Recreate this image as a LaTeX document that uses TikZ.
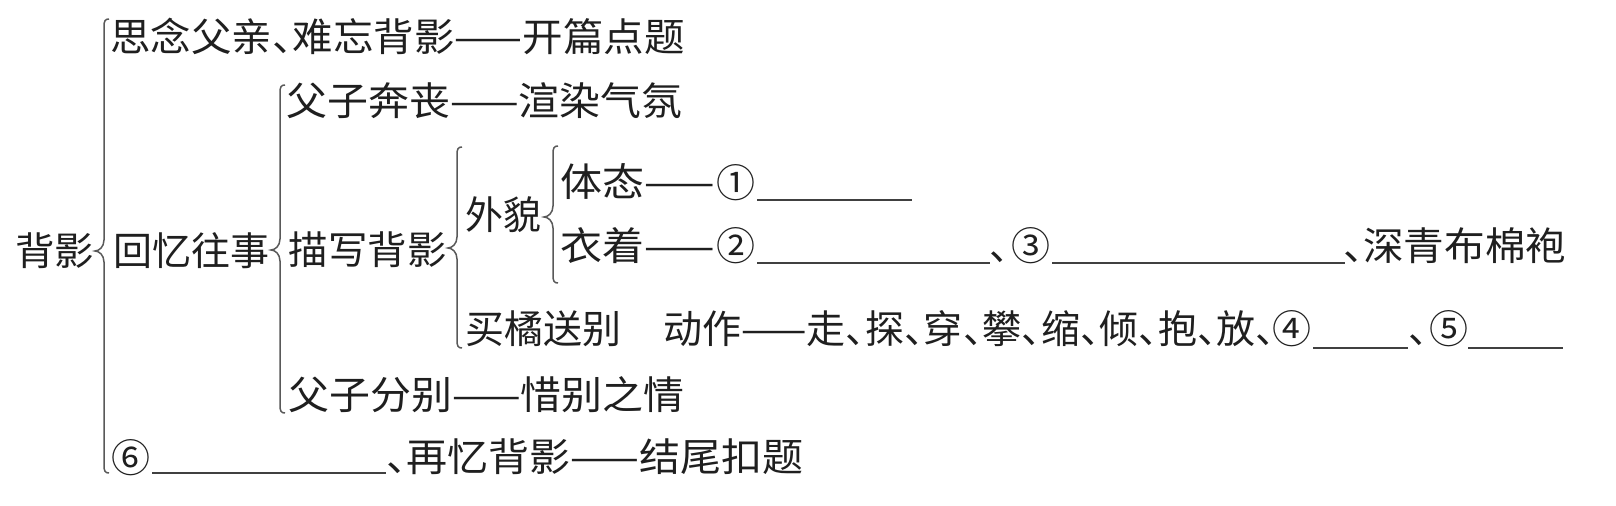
\documentclass[tikz,border=0pt]{standalone}
\usepackage{fontspec}
\usepackage{graphicx}
\newfontfamily\cjk{Noto Sans CJK SC}[RawFeature=+halt]
\newlength\pxu
\setlength\pxu{0.5pt}
\newcommand\sq[2]{\resizebox{#1\pxu}{\height}{#2}}
% L T M B : line x, top y, tip y, bottom y
\newcommand\mybrace[4]{%
  \draw[brc] (#1+5,#2) .. controls (#1+1,#2) and (#1,#2+2) .. (#1,#2+8)
    -- (#1,#3-11) .. controls (#1,#3-4) and (#1-5,#3) .. (#1-9,#3)
    .. controls (#1-5,#3) and (#1,#3+4) .. (#1,#3+11)
    -- (#1,#4-8) .. controls (#1,#4-2) and (#1+1,#4) .. (#1+5,#4);}
\begin{document}
\begin{tikzpicture}[x=0.5pt,y=-0.5pt,
  t/.style={anchor=west,inner sep=0pt,outer sep=0pt,text height=17.2pt,text depth=2.3pt,
    text=black!88,font=\cjk\fontsize{19.5pt}{24pt}\selectfont},
  brc/.style={draw=black!65,line width=0.75pt},
  ul/.style={draw=black!75,line width=0.9pt}]
\fill[white] (0,0) rectangle (1616,506);
\useasboundingbox (0,0) rectangle (1616,506);

% level 0 and 1
\node[t] (root) at (15.5,251) {\sq{79}{背影}};
\node[t] (r1) at (110.5,37) {\sq{574}{思念父亲、难忘背影——开篇点题}};
\node[t] (hy) at (113.5,251) {\sq{156}{回忆往事}};
\node[t] (c6) at (111,458) {⑥};
\node[t] (tail) at (386,457) {\sq{417.5}{、再忆背影——结尾扣题}};

% level 2
\node[t] (r2) at (286.5,101) {\sq{396}{父子奔丧——渲染气氛}};
\node[t] (ms) at (288.5,250) {\sq{158}{描写背影}};
\node[t] (fz) at (288.5,395) {\sq{396}{父子分别——惜别之情}};

% level 3
\node[t] (wm) at (465.5,215) {\sq{76}{外貌}};
\node[t] (mj) at (465.5,329) {\sq{156}{买橘送别}};
\node[t] (dz) at (663.5,329) {\sq{611.5}{动作——走、探、穿、攀、缩、倾、抱、放、}};
\node[t] (c4) at (1272,329) {④};
\node[t] (cm2) at (1408,329) {、};
\node[t] (c5) at (1429,329) {⑤};

% level 4
\node[t] (tt) at (560.5,182) {\sq{154.5}{体态——}};
\node[t] (c1) at (716,183) {①};
\node[t] (yz) at (560.5,246) {\sq{154.5}{衣着——}};
\node[t] (c2) at (716,246) {②};
\node[t] (cm1) at (989,246) {、};
\node[t] (c3) at (1011,246) {③};
\node[t] (sq) at (1343,246) {\sq{223.5}{、深青布棉袍}};

% blanks
\draw[ul] (757,200) -- (912,200);
\draw[ul] (757,263) -- (990,263);
\draw[ul] (1052,263) -- (1345,263);
\draw[ul] (1313,348) -- (1408,348);
\draw[ul] (1468,348) -- (1563,348);
\draw[ul] (152,473) -- (386,473);

% braces
\mybrace{104}{19}{251}{473}
\mybrace{280}{85}{250}{413}
\mybrace{457}{147}{248}{348}
\mybrace{553}{146}{217}{283}
\end{tikzpicture}
\end{document}
